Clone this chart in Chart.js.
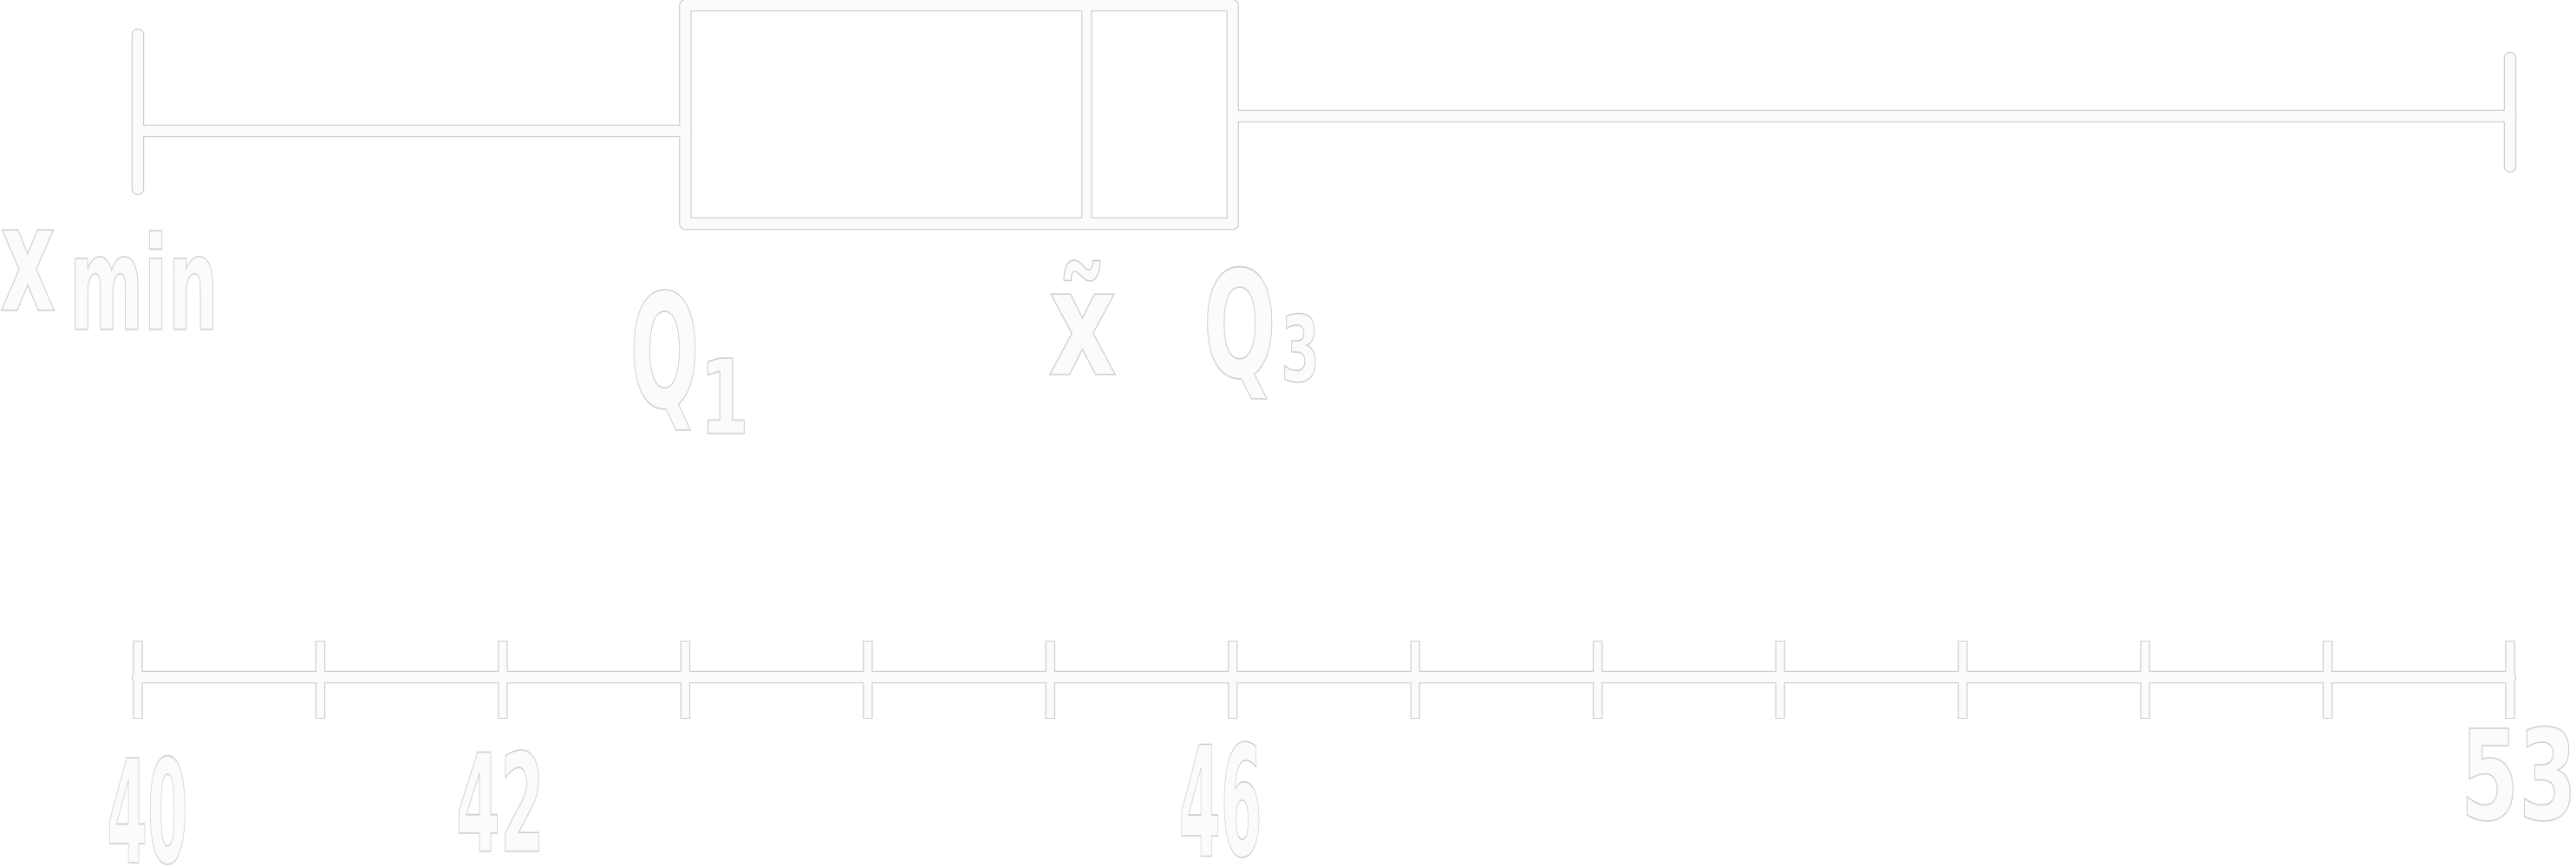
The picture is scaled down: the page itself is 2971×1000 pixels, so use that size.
<!DOCTYPE html>
<html>
<head>
<meta charset="utf-8">
<script src="https://cdn.jsdelivr.net/npm/chart.js@4.4.1/dist/chart.umd.min.js"></script>
<style>
  html, body { margin: 0; padding: 0; background: #ffffff; }
  #wrap { width: 2971px; height: 1000px; position: relative; }
</style>
</head>
<body>
<div id="wrap"><canvas id="c"></canvas></div>
<script>
// ---------------- data ----------------
const statNames  = ['min', 'q1', 'median', 'q3', 'max'];
const statValues = [40, 43, 45.2, 46, 53];
const axisTicks  = [40, 41, 42, 43, 44, 45, 46, 47, 48, 49, 50, 51, 52, 53];
const tickLabelValues = [40, 42, 46, 53];
const tickLabels      = ['40', '42', '46', '53'];
const markerValues    = [40, 43, 45.2, 46];
const markerMain      = ['x', 'Q', 'x\u0303', 'Q'];
const markerSub       = ['min', '1', '', '3'];

// ---------------- layout / style (not data) ----------------
const INK = '#fbfbfb';
const EDGE = '#cfcfcf';
const Y = { boxTop: 6, boxBottom: 258, whiskL: 151, whiskR: 134,
            capLTop: 40, capLBot: 218, capRTop: 67, capRBot: 192, axis: 781, tickMid: 784 };
// label layout: [dx from anchor pixel, baseline, font size, target width]
const markerMainLayout = [[-127, 358, 170, 64], [-24, 470, 181, 80], [-5, 432, 170, 79], [8, 435, 171, 84]];
const markerSubLayout  = [[7, 380, 150, 172], [45, 500, 120, 57], null, [78, 440, 106, 45]];
const tickLabelLayout  = [[11, 995, 165, 93], [-3, 982, 156, 102], [-14, 987, 177, 96], [10, 945, 144, 134]];

const v = Object.fromEntries(statNames.map((n, i) => [n, statValues[i]]));

function seg(points, width) {
  return [
    { data: points, showLine: true, borderColor: INK, borderWidth: width, pointRadius: 0,
      borderCapStyle: 'round', borderJoinStyle: 'round', clip: false, order: 1, tension: 0 },
    { data: points, showLine: true, borderColor: EDGE, borderWidth: width + 2.5, pointRadius: 0,
      borderCapStyle: 'round', borderJoinStyle: 'round', clip: false, order: 2, tension: 0 }
  ];
}

const datasets = [];
// number line
datasets.push(...seg([{ x: axisTicks[0], y: Y.axis }, { x: axisTicks[axisTicks.length - 1], y: Y.axis }], 12));
// tick marks
const tickPts = axisTicks.map(t => ({ x: t, y: Y.tickMid }));
datasets.push({ data: tickPts, showLine: false, pointStyle: 'line', pointRadius: 44, pointRotation: 90,
  pointBorderWidth: 9, pointBorderColor: INK, clip: false, order: 1 });
datasets.push({ data: tickPts, showLine: false, pointStyle: 'line', pointRadius: 45, pointRotation: 90,
  pointBorderWidth: 11.5, pointBorderColor: EDGE, clip: false, order: 2 });
// box
datasets.push(...seg([
  { x: v.q1, y: Y.boxTop }, { x: v.q3, y: Y.boxTop }, { x: v.q3, y: Y.boxBottom },
  { x: v.q1, y: Y.boxBottom }, { x: v.q1, y: Y.boxTop }], 12));
// median
datasets.push(...seg([{ x: v.median, y: Y.boxTop }, { x: v.median, y: Y.boxBottom }], 10));
// whiskers
datasets.push(...seg([{ x: v.min, y: Y.whiskL }, { x: v.q1, y: Y.whiskL }], 12));
datasets.push(...seg([{ x: v.q3, y: Y.whiskR }, { x: v.max, y: Y.whiskR }], 12));
// caps
datasets.push(...seg([{ x: v.min, y: Y.capLTop }, { x: v.min, y: Y.capLBot }], 12));
datasets.push(...seg([{ x: v.max, y: Y.capRTop }, { x: v.max, y: Y.capRBot }], 12));

function fitText(ctx, text, cx, base, size, targetW) {
  ctx.save();
  ctx.font = 'bold ' + size + 'px "DejaVu Sans"';
  ctx.textAlign = 'center';
  ctx.textBaseline = 'alphabetic';
  const w = ctx.measureText(text).width || 1;
  const sx = targetW / w;
  ctx.translate(cx, base);
  ctx.scale(sx, 1);
  ctx.fillStyle = INK;
  ctx.fillText(text, 0, 0);
  ctx.lineWidth = 1.6;
  ctx.strokeStyle = EDGE;
  ctx.strokeText(text, 0, 0);
  ctx.restore();
}

const labelPlugin = {
  id: 'labels',
  afterDatasetsDraw(chart) {
    const ctx = chart.ctx;
    const xs = chart.scales.x;
    markerValues.forEach((val, i) => {
      const px = xs.getPixelForValue(val);
      const m = markerMainLayout[i];
      fitText(ctx, markerMain[i], px + m[0], m[1], m[2], m[3]);
      const s = markerSubLayout[i];
      if (s && markerSub[i]) fitText(ctx, markerSub[i], px + s[0], s[1], s[2], s[3]);
    });
    tickLabelValues.forEach((val, i) => {
      const px = xs.getPixelForValue(val);
      const l = tickLabelLayout[i];
      fitText(ctx, tickLabels[i], px + l[0], l[1], l[2], l[3]);
    });
  }
};

new Chart(document.getElementById('c'), {
  type: 'scatter',
  data: { datasets },
  options: {
    responsive: true,
    maintainAspectRatio: false,
    animation: false,
    events: [],
    layout: { autoPadding: false, padding: { left: 159, right: 76, top: 0, bottom: 0 } },
    plugins: { legend: { display: false }, tooltip: { enabled: false } },
    scales: {
      x: { type: 'linear', min: axisTicks[0], max: axisTicks[axisTicks.length - 1], display: false },
      y: { type: 'linear', min: 0, max: 1000, reverse: true, display: false }
    }
  },
  plugins: [labelPlugin]
});
</script>
</body>
</html>
